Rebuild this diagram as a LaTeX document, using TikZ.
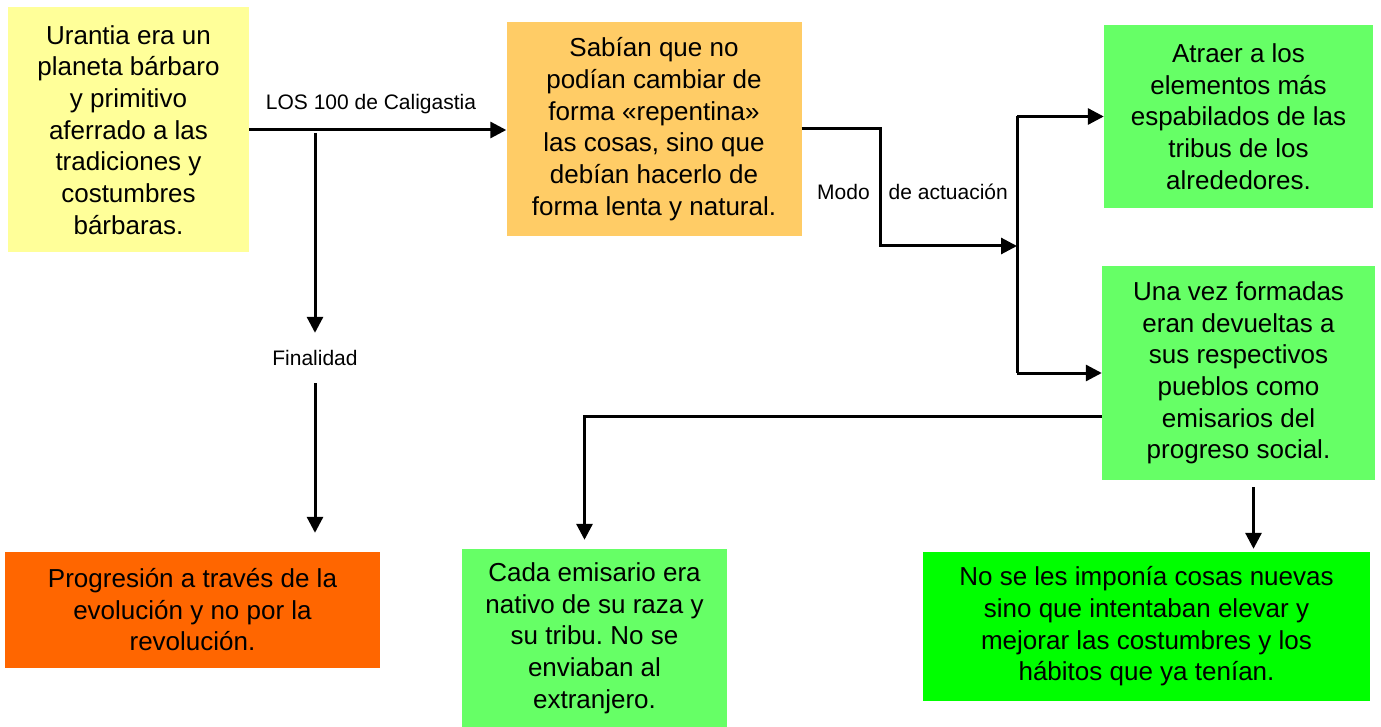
\documentclass[tikz,border=0pt]{standalone}
\usepackage{fontspec}
\setmainfont{Liberation Sans}
\usetikzlibrary{arrows.meta}
\frenchspacing
\definecolor{cYellow}{HTML}{FFFF99}
\definecolor{cOrange}{HTML}{FFCC66}
\definecolor{cGreen}{HTML}{66FF66}
\definecolor{cRed}{HTML}{FF6600}
\definecolor{cLime}{HTML}{00FF00}
\tikzset{
  box/.style={inner sep=0pt, align=center, font=\fontsize{26}{31.7}\selectfont},
  lbl/.style={inner sep=0pt, font=\fontsize{21}{25}\selectfont},
  conn/.style={line width=3pt, black},
  arr/.style={conn, -{Triangle[length=16pt,width=16pt]}},
}
\begin{document}
\begin{tikzpicture}[x=1pt,y=-1pt]
\useasboundingbox (0,0) rectangle (1381,727);
% boxes
\node[box, fill=cYellow, minimum width=241pt, minimum height=245pt] (b1) at (128.5,130)
  {Urantia era un\\planeta bárbaro\\y primitivo\\aferrado a las\\tradiciones y\\costumbres\\bárbaras.};
\node[box, fill=cOrange, minimum width=295pt, minimum height=214pt] (b2) at (654,129)
  {Sabían que no\\podían cambiar de\\forma «repentina»\\las cosas, sino que\\debían hacerlo de\\forma lenta y natural.};
\node[box, fill=cGreen, minimum width=269pt, minimum height=183pt] (b3) at (1238.5,116.5)
  {Atraer a los\\elementos más\\espabilados de las\\tribus de los\\alrededores.};
\node[box, fill=cGreen, minimum width=273pt, minimum height=214pt] (b4) at (1238.5,373)
  {Una vez formadas\\eran devueltas a\\sus respectivos\\pueblos como\\emisarios del\\progreso social.};
\node[box, fill=cRed, minimum width=375pt, minimum height=116.5pt] (b5) at (192.5,609.75)
  {Progresión a través de la\\evolución y no por la\\revolución.};
\node[box, fill=cGreen, minimum width=265pt, minimum height=178pt] (b6) at (594.5,638)
  {Cada emisario era\\nativo de su raza y\\su tribu. No se\\enviaban al\\extranjero.};
\node[box, fill=cLime, minimum width=447pt, minimum height=149pt] (b7) at (1146.5,626.5)
  {No se les imponía cosas nuevas\\sino que intentaban elevar y\\mejorar las costumbres y los\\hábitos que ya tenían.};

% labels
\node[lbl] (l1) at (371,104) {LOS 100 de Caligastia};
\node[lbl, minimum height=50pt] (fin) at (315,358) {Finalidad};
\node[lbl] (l2) at (912.5,192) {Modo\hspace{19pt}de actuación};

% connectors
\draw[arr] (b1.east) -- (b1.east -| b2.west);
\coordinate (f0) at (315,133);
\draw[arr] (f0) -- (fin.north);
\draw[arr, shorten >=18.5pt] (fin.south) -- (fin.south |- b5.north);

\coordinate (m) at (880,246);
\coordinate (j) at (1017,246);
\draw[arr] (b2.east) -| (m) -- (j);
\draw[conn] (j |- b3.west) -- (j |- b4.west);
\draw[arr] (j |- b3.west) -- (b3.west);
\draw[arr] (j |- b4.west) -- (b4.west);

\draw[arr, shorten >=9pt] ([yshift=-43pt]b4.west) -| ([xshift=-10pt]b6.north);
\draw[arr, shorten >=3pt] ([xshift=15pt,yshift=-7pt]b4.south) -- ([xshift=15pt]b4.south |- b7.north);
\end{tikzpicture}
\end{document}
